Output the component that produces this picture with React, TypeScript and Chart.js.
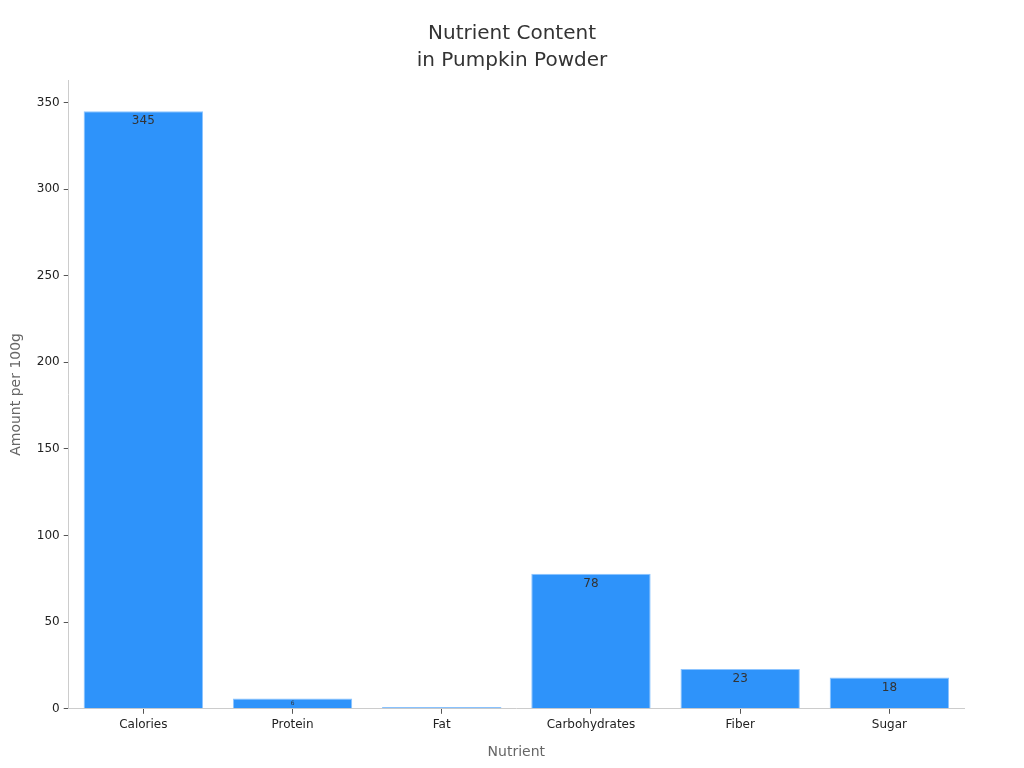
import React, { useRef, useEffect } from 'react';
import { Chart, registerables, Plugin } from 'chart.js';

Chart.register(...registerables);

const nutrients: string[] = ['Calories', 'Protein', 'Fat', 'Carbohydrates', 'Fiber', 'Sugar'];
const amounts: number[] = [345, 6, 1, 78, 23, 18];
const yTicks: number[] = [0, 50, 100, 150, 200, 250, 300, 350];
const titleLines: string[] = ['Nutrient Content', 'in Pumpkin Powder'];

const FONT = "'DejaVu Sans', sans-serif";

// draws the value just inside the top of each bar, shrinking it for short bars
const valueLabels: Plugin<'bar'> = {
    id: 'valueLabels',
    afterDatasetsDraw(chart) {
        const ctx = chart.ctx;
        const meta = chart.getDatasetMeta(0);
        ctx.save();
        ctx.fillStyle = '#333333';
        ctx.textAlign = 'center';
        meta.data.forEach((bar: any, i: number) => {
            const h = bar.base - bar.y;
            let size = 12;
            if (h < 16) size = h * 0.6;
            if (size < 3) return;
            ctx.font = `${size}px ${FONT}`;
            ctx.textBaseline = h < 16 ? 'middle' : 'top';
            const y = h < 16 ? bar.y + h / 2 : bar.y + 4;
            ctx.fillText(String(amounts[i]), bar.x, y);
        });
        ctx.restore();
    },
};

// title centred on the whole canvas (the built-in one follows the layout padding)
const pageTitle: Plugin<'bar'> = {
    id: 'pageTitle',
    afterDraw(chart) {
        const ctx = chart.ctx;
        ctx.save();
        ctx.fillStyle = '#333333';
        ctx.textAlign = 'center';
        ctx.textBaseline = 'middle';
        ctx.font = `20px ${FONT}`;
        titleLines.forEach((line, i) => {
            ctx.fillText(line, chart.width / 2, 34 + i * 27);
        });
        ctx.restore();
    },
};

const BarChart: React.FC = () => {
    const canvas = useRef<HTMLCanvasElement | null>(null);

    useEffect(() => {
        const el = canvas.current;
        if (!el) return;
        const chart = new Chart(el, {
            type: 'bar',
            data: {
                labels: nutrients,
                datasets: [
                    {
                        label: 'Amount per 100g',
                        data: amounts,
                        backgroundColor: '#2E93FA',
                        borderColor: '#8CC4FF',
                        borderWidth: 1,
                        barPercentage: 0.8,
                        categoryPercentage: 1,
                    },
                ],
            },
            options: {
                animation: false,
                responsive: true,
                maintainAspectRatio: false,
                layout: { padding: { left: 4, right: 60, top: 80, bottom: 3 } },
                plugins: {
                    legend: { display: false },
                    tooltip: { enabled: false },
                    title: { display: false },
                },
                scales: {
                    x: {
                        grid: { display: true, offset: false, drawOnChartArea: false, drawTicks: true, tickLength: 5, color: '#555555' },
                        border: { color: '#cccccc' },
                        ticks: { color: '#222222', font: { family: FONT, size: 12 }, padding: 4 },
                        title: {
                            display: true,
                            text: 'Nutrient',
                            color: '#666666',
                            font: { family: FONT, size: 14 },
                            padding: { top: 8 },
                        },
                    },
                    y: {
                        min: 0,
                        max: 363,
                        grid: { display: true, drawOnChartArea: false, drawTicks: true, tickLength: 5, color: '#555555' },
                        border: { color: '#cccccc' },
                        afterBuildTicks: (axis) => {
                            axis.ticks = yTicks.map((v) => ({ value: v }));
                        },
                        ticks: { color: '#222222', font: { family: FONT, size: 12 }, padding: 4 },
                        title: {
                            display: true,
                            text: 'Amount per 100g',
                            color: '#666666',
                            font: { family: FONT, size: 14 },
                            padding: { bottom: 8 },
                        },
                    },
                },
            },
            plugins: [valueLabels, pageTitle],
        });
        return () => chart.destroy();
    }, []);

    return (
        <div style={{ position: 'fixed', left: 0, top: 0, width: 1024, height: 768, background: '#fff' }}>
            <canvas ref={canvas}></canvas>
        </div>
    );
};

export default function App() {
    return <BarChart />;
}
